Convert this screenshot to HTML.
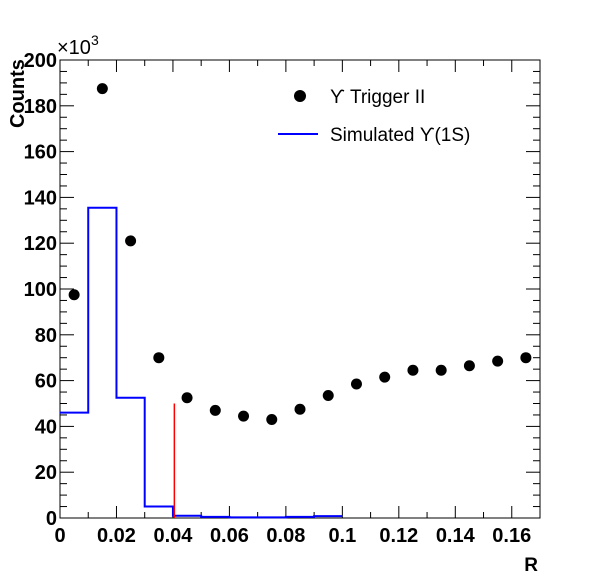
<!DOCTYPE html>
<html><head><meta charset="utf-8"><style>
body{margin:0;background:#fff}
svg{display:block;font-family:"Liberation Sans",sans-serif}
</style></head><body>
<svg id="c" width="600" height="576">
<rect x="60" y="60" width="480" height="458" fill="none" stroke="#000" stroke-width="1"/>
<g id="ax"></g><g id="hist"></g><g id="pts"></g>
<text x="57" y="54" font-size="20">×10<tspan dy="-9" font-size="14">3</tspan></text>
<text transform="translate(24,128) rotate(-90)" font-size="20" font-weight="bold">Counts</text>
<text x="538" y="571" font-size="19" font-weight="bold" text-anchor="end">R</text>
<g>
<circle cx="300" cy="96" r="6" fill="#000"/>
<text x="330" y="103" font-size="19">ϒ Trigger II</text>
<line x1="278" y1="134" x2="318" y2="134" stroke="#0000ff" stroke-width="2"/>
<text x="330" y="141" font-size="19">Simulated ϒ(1S)</text>
</g>
</svg>
<script>
const pointX=[0.005,0.015,0.025,0.035,0.045,0.055,0.065,0.075,0.085,0.095,0.105,0.115,0.125,0.135,0.145,0.155,0.165];
const pointY=[97.5,187.5,121,70,52.5,47,44.5,43,47.5,53.5,58.5,61.5,64.5,64.5,66.5,68.5,70];
const binEdges=[0,0.01,0.02,0.03,0.04,0.05,0.06,0.07,0.08,0.09,0.1];
const binValues=[46,135.5,52.5,5,1,0.5,0.3,0.3,0.5,0.8];
const xTicks=[0,0.02,0.04,0.06,0.08,0.1,0.12,0.14,0.16];
const xTickLabels=["0","0.02","0.04","0.06","0.08","0.1","0.12","0.14","0.16"];
const yTicks=[0,20,40,60,80,100,120,140,160,180,200];
const cutX=0.0405, cutY=50;
const X=v=>60+v/0.17*480, Y=v=>518-v/200*458;
const NS="http://www.w3.org/2000/svg";
function mk(p,t,a){const e=document.createElementNS(NS,t);for(const k in a)e.setAttribute(k,a[k]);p.appendChild(e);return e;}
const ax=document.getElementById('ax');
for(let i=0;i<=17;i++){const x=X(i*0.01),L=i%2?6:12;
 let t=mk(ax,'line',{x1:x,x2:x,y1:518,y2:518-L,stroke:'#000'});
 
 t=mk(ax,'line',{x1:x,x2:x,y1:60,y2:60+L,stroke:'#000'});
 }
xTicks.forEach((v,i)=>{const t=mk(ax,'text',{x:X(v),y:542,'font-size':20,'font-weight':'bold','text-anchor':'middle'});t.textContent=xTickLabels[i];
 });
for(let v=0;v<=200;v+=5){const y=Y(v),L=v%20?7:14;
 let t=mk(ax,'line',{x1:60,x2:60+L,y1:y,y2:y,stroke:'#000'});
 
 t=mk(ax,'line',{x1:540,x2:540-L,y1:y,y2:y,stroke:'#000'});
 }
yTicks.forEach(v=>{const t=mk(ax,'text',{x:57,y:Y(v)+7,'font-size':20,'font-weight':'bold','text-anchor':'end'});t.textContent=v;
 });
const h=document.getElementById('hist');
let d='M'+X(binEdges[0])+','+Y(binValues[0]);
binValues.forEach((v,i)=>{d+=' L'+X(binEdges[i])+','+Y(v)+' L'+X(binEdges[i+1])+','+Y(v);});
const hp=mk(h,'path',{d:d,fill:'none',stroke:'#0000ff','stroke-width':2});


const cl=mk(h,'line',{x1:X(cutX),x2:X(cutX),y1:Y(0),y2:Y(cutY),stroke:'#ff0000','stroke-width':1.5});


const pg=document.getElementById('pts');
pointX.forEach((x,i)=>{const c=mk(pg,'circle',{cx:X(x),cy:Y(pointY[i]),r:5.5,fill:'#000'});
 
 });
</script>
</body></html>
